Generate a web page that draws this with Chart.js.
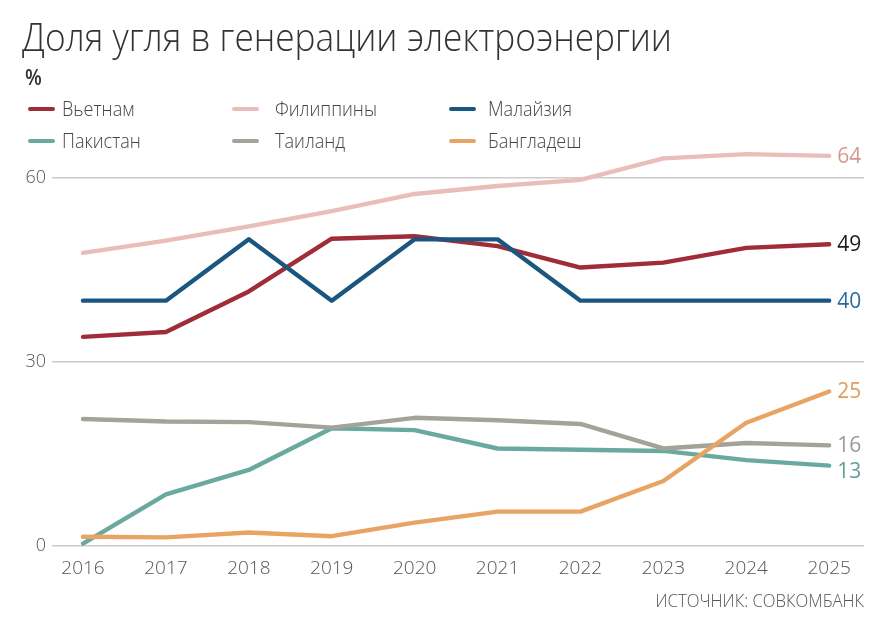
<!DOCTYPE html>
<html><head><meta charset="utf-8">
<script src="https://cdn.jsdelivr.net/npm/chart.js@4"></script>
<style>
html,body{margin:0;padding:0;background:#fff;width:895px;height:630px;overflow:hidden;font-family:"Open Sans",sans-serif;}
#wrap{position:relative;width:895px;height:630px;}
#chart{position:absolute;left:0;top:0;}
.t{position:absolute;white-space:nowrap;line-height:1;transform-origin:0 50%;}
#title{left:22px;top:17px;font-size:38px;font-weight:300;color:#333;}
#unit{left:25px;top:67px;font-size:21px;font-weight:600;color:#333;}
.sw{position:absolute;width:27px;height:4.5px;border-radius:3px;}
.lt{font-size:19.5px;font-weight:300;color:#444;}
#src{right:31px;top:591px;font-size:18px;font-weight:300;color:#555;transform-origin:100% 50%;}
</style></head>
<body><div id="wrap">
<canvas id="chart" width="895" height="630"></canvas>
<div id="title" class="t">Доля угля в генерации электроэнергии</div>
<div id="unit" class="t">%</div>
<div id="legend"></div>
<div id="src" class="t">ИСТОЧНИК: СОВКОМБАНК</div>
</div>
<script>
const years = [2016, 2017, 2018, 2019, 2020, 2021, 2022, 2023, 2024, 2025];
const vietnam     = [34.1, 34.9, 41.5, 50.1, 50.5, 48.9, 45.4, 46.2, 48.6, 49.2];
const philippines = [47.8, 49.8, 52.1, 54.6, 57.4, 58.7, 59.7, 63.2, 63.9, 63.6];
const malaysia    = [40, 40, 50, 40, 50, 50, 40, 40, 40, 40];
const pakistan    = [0.4, 8.4, 12.4, 19.2, 18.9, 15.9, 15.7, 15.5, 14.0, 13.1];
const thailand    = [20.7, 20.3, 20.2, 19.3, 20.9, 20.5, 19.9, 15.9, 16.8, 16.4];
const bangladesh  = [1.5, 1.4, 2.2, 1.6, 3.8, 5.6, 5.6, 10.6, 20.1, 25.2];
const seriesNames = ['Вьетнам', 'Филиппины', 'Малайзия', 'Пакистан', 'Таиланд', 'Бангладеш'];
const endLabels   = ['49', '64', '40', '13', '16', '25'];
const yTicks = [0, 30, 60];

const seriesValues = [vietnam, philippines, malaysia, pakistan, thailand, bangladesh];
const lineColors  = ['#9f2c36', '#e9bdb9', '#1b5681', '#6aa99f', '#a3a399', '#e8a463'];
const labelColors = ['#1a1a1a', '#d6978e', '#2a6b9b', '#5f9f95', '#9b9b93', '#e09d5c'];

// legend (HTML)
const colSwatch = [28, 232, 449], colText = [62, 275, 488], rowY = [109, 141];
const leg = document.getElementById('legend');
seriesNames.forEach((n, i) => {
  const c = i % 3, r = Math.floor(i / 3);
  const sw = document.createElement('div');
  sw.className = 'sw';
  sw.style.left = colSwatch[c] + 'px';
  sw.style.top = (rowY[r] - 2.25) + 'px';
  sw.style.background = lineColors[i];
  leg.appendChild(sw);
  const t = document.createElement('div');
  t.className = 't lt';
  t.textContent = n;
  t.style.left = colText[c] + 'px';
  t.style.top = (rowY[r] - 10.5) + 'px';
  leg.appendChild(t);
});
const titleEl = document.getElementById('title');
const fx = 650 / titleEl.getBoundingClientRect().width;
document.querySelectorAll('.t').forEach(el => { el.style.transform = 'scaleX(' + fx + ')'; });

const endLabelPlugin = {
  id: 'endLabels',
  afterDatasetsDraw(chart) {
    const ctx = chart.ctx;
    const items = chart.data.datasets.map((ds, i) => {
      const meta = chart.getDatasetMeta(i);
      const pt = meta.data[meta.data.length - 1];
      return { i, x: pt.x + 8, y: pt.y };
    }).sort((a, b) => a.y - b.y);
    for (let k = 1; k < items.length; k++) {
      if (items[k].y - items[k - 1].y < 26) items[k].y = items[k - 1].y + 26;
    }
    ctx.save();
    ctx.font = '400 21px "Open Sans"';
    ctx.textBaseline = 'middle';
    ctx.textAlign = 'left';
    items.forEach(it => {
      ctx.fillStyle = labelColors[it.i];
      ctx.fillText(endLabels[it.i], it.x, it.y + 1);
    });
    ctx.restore();
  }
};

new Chart(document.getElementById('chart'), {
  type: 'line',
  data: {
    datasets: seriesNames.map((n, i) => ({
      label: n,
      data: years.map((yr, j) => ({ x: yr, y: seriesValues[i][j] })),
      borderColor: lineColors[i],
      backgroundColor: lineColors[i],
      borderWidth: 4.4,
      pointRadius: 0,
      tension: 0,
      borderCapStyle: 'round',
      borderJoinStyle: 'round',
      order: seriesNames.length - i,
      clip: false
    }))
  },
  options: {
    responsive: false,
    animation: false,
    layout: { padding: { left: 0, right: 31, top: 141.2, bottom: 40 } },
    plugins: { legend: { display: false }, tooltip: { enabled: false } },
    scales: {
      x: {
        type: 'linear', min: 2015.626, max: 2025.42,
        grid: { display: false }, border: { display: false },
        afterBuildTicks: s => { s.ticks = years.map(v => ({ value: v })); },
        afterFit: s => { s.height = 44; },
        ticks: { callback: v => String(v), autoSkip: false, maxRotation: 0, padding: 3,
                 color: '#555', font: { family: 'Open Sans', size: 19, weight: 300 } }
      },
      y: {
        min: 0, max: 66,
        afterBuildTicks: s => { s.ticks = yTicks.map(v => ({ value: v })); },
        afterFit: s => { s.width = 52; },
        grid: { color: '#cccccc', lineWidth: 1.5, drawTicks: false }, border: { display: false },
        ticks: { padding: 6, color: '#555', font: { family: 'Open Sans', size: 18, weight: 300 } }
      }
    }
  },
  plugins: [endLabelPlugin]
});
</script>
</body></html>
